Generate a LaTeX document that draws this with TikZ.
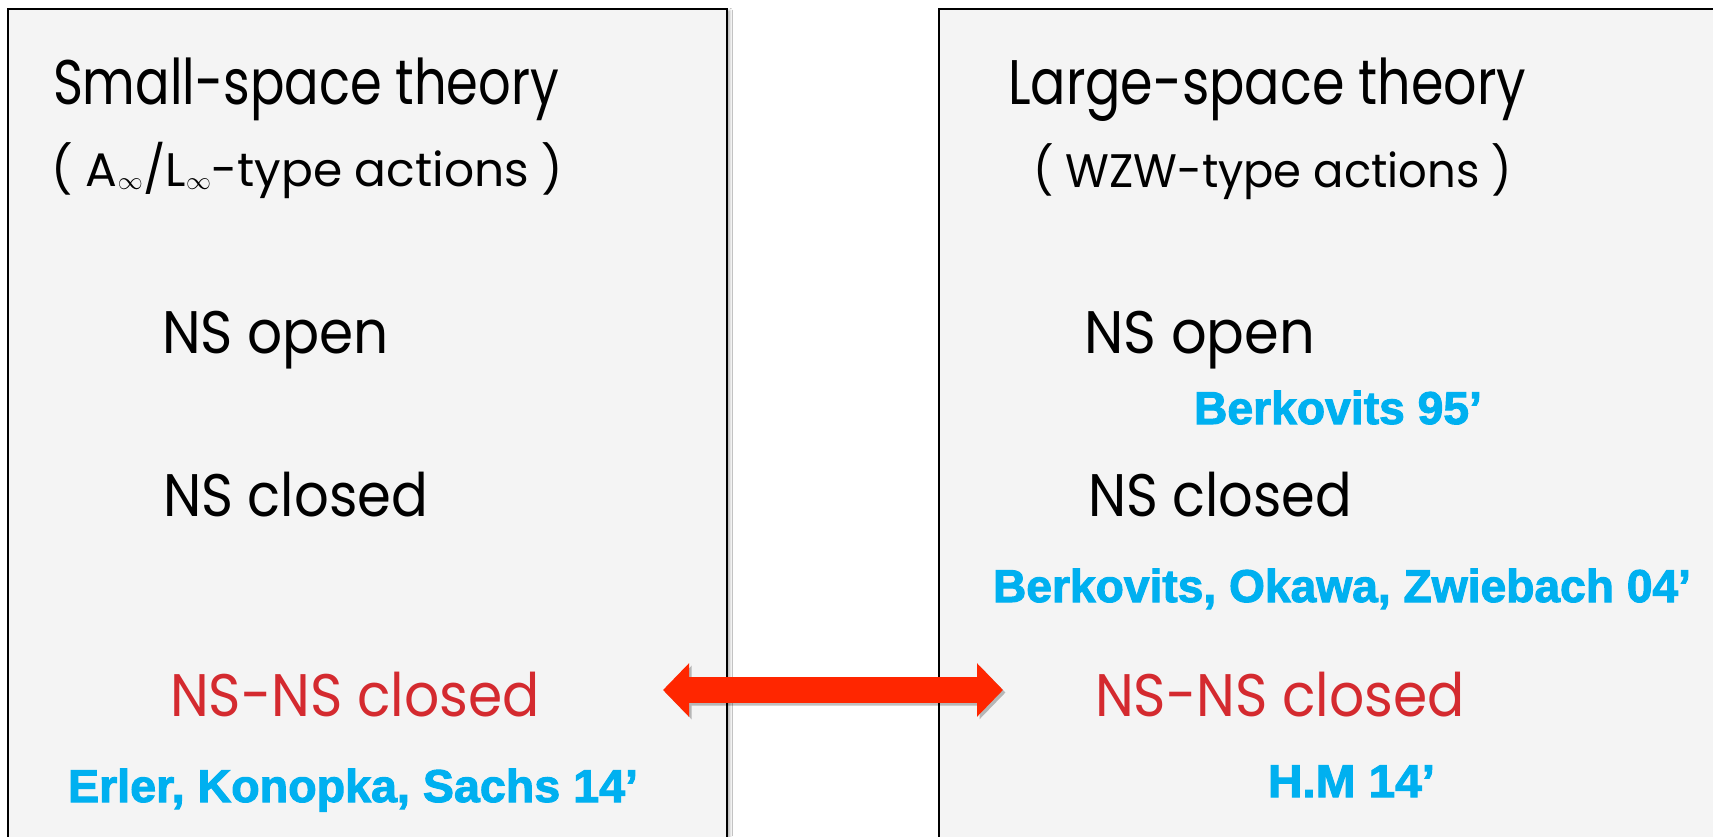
\documentclass[tikz,border=0pt]{standalone}
\usepackage{fontspec}
\usepackage{graphicx}
\setmainfont{Poppins}
\newfontfamily\citefont{Liberation Sans}[BoldFeatures={FakeBold=2.2}]
\usetikzlibrary{arrows.meta,shadows.blur}

\definecolor{panelgray}{HTML}{F4F4F4}
\definecolor{nsred}{HTML}{D42A2F}
\definecolor{citeblue}{HTML}{00B0F0}
\definecolor{arrowred}{HTML}{FF2600}

% stretch or squeeze a label horizontally to a given width (in pt), keeping its height
\newcommand\fitw[2]{\resizebox{#1pt}{\height}{#2}}

\begin{document}
\begin{tikzpicture}[x=1pt,y=-1pt,
  panel/.style={draw=black, line width=2pt, fill=panelgray,
    blur shadow={shadow xshift=2.5pt, shadow yshift=-2pt, shadow blur radius=3pt, shadow opacity=35}},
  lbl/.style={anchor=base west, inner sep=0pt, outer sep=0pt},
  heading/.style={lbl, font=\fontsize{63}{70}\selectfont},
  subheading/.style={lbl, font=\fontsize{47}{52}\selectfont},
  sector/.style={lbl, font=\fontsize{60}{66}\selectfont},
  redsector/.style={sector, text=nsred},
  cite/.style={lbl, font=\citefont\bfseries\fontsize{46}{50}\selectfont, text=citeblue},
  bothway/.style={draw=arrowred, line width=26pt,
    {Triangle[length=26pt,width=52pt]}-{Triangle[length=26pt,width=52pt]}}
]
\useasboundingbox (0,0) rectangle (1713,836);
\fill[white] (0,0) rectangle (1713,836);

% the two panels
\path[panel] (8,9) rectangle (727,880);
\path[panel] (939,9) rectangle (1760,880);

% small-space side
\node[heading]    (tl)  at (53,104)  {\fitw{506}{Small-space theory}};
\node[subheading] (sl)  at (52,186)  {\fitw{511}{( A$_{\infty}$/L$_{\infty}$-type actions )}};
\node[sector]     (nol) at (162,353) {\fitw{227}{NS open}};
\node[sector]     (ncl) at (163,516) {\fitw{265}{NS closed}};
\node[redsector]  (nnl) at (170,716) {\fitw{370}{NS-NS closed}};
\node[cite]       (ekl) at (68,802)  {\fitw{570}{Erler, Konopka, Sachs 14’}};

% large-space side
\node[heading]    (tr)  at (1008,104) {\fitw{518}{Large-space theory}};
\node[subheading] (sr)  at (1033,187) {\fitw{479}{( WZW-type actions )}};
\node[sector]     (nor) at (1084,353) {\fitw{231}{NS open}};
\node[cite]       (b95) at (1194,424) {\fitw{288}{Berkovits 95’}};
\node[sector]     (ncr) at (1088,516) {\fitw{264}{NS closed}};
\node[cite]       (boz) at (993,602)  {\fitw{698}{Berkovits, Okawa, Zwiebach 04’}};
\node[redsector]  (nnr) at (1095,716) {\fitw{370}{NS-NS closed}};
\node[cite]       (hm)  at (1268,797) {\fitw{167}{H.M 14’}};

% double arrow between the NS-NS sectors
\coordinate (al) at (663,690);
\coordinate (ar) at (1003,690);
\begin{scope}[transparency group, opacity=.25]
  \draw[bothway, draw=black, transform canvas={xshift=2.5pt,yshift=-2.5pt}] (al) -- (ar);
\end{scope}
\draw[bothway] (al) -- (ar);
\end{tikzpicture}
\end{document}
